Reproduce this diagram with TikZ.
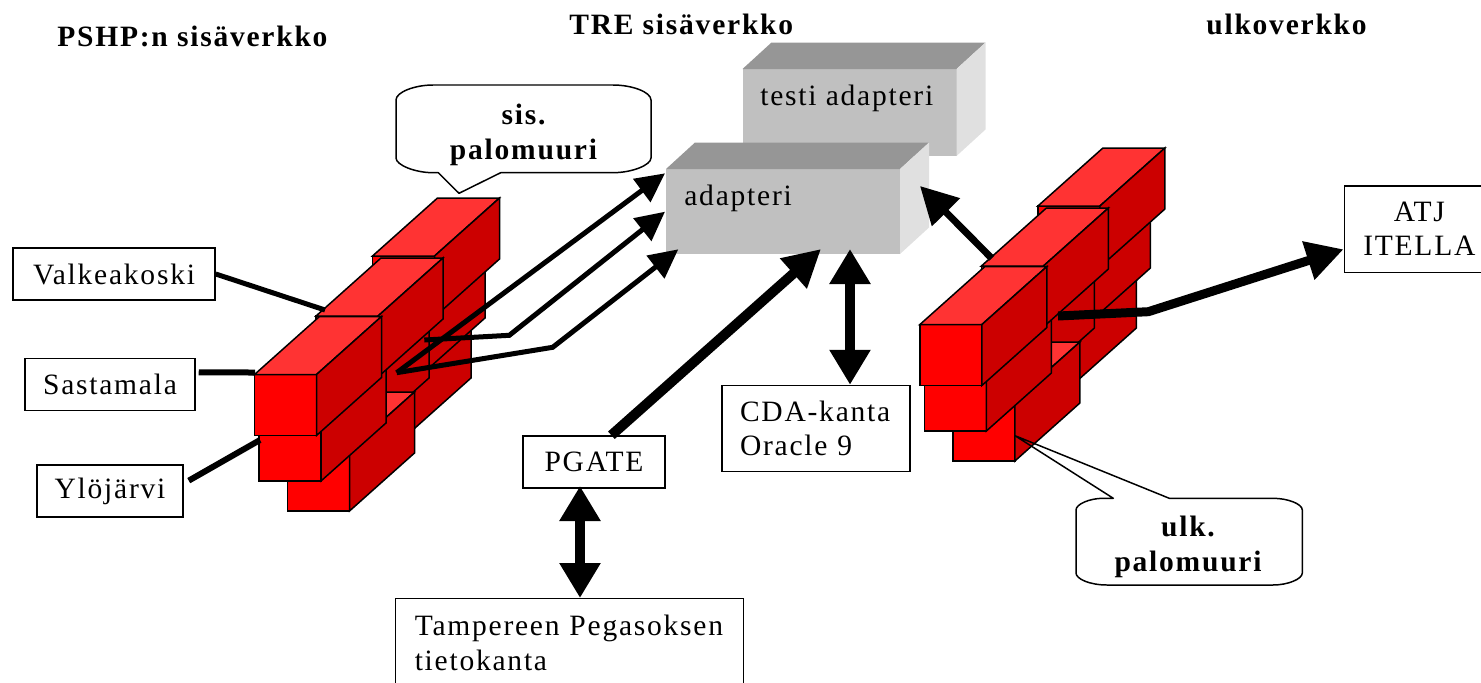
\documentclass[tikz,border=0pt]{standalone}
\usepackage{fontspec}
\setmainfont{Liberation Serif}
\newfontfamily\spacedfont[LetterSpace=6]{Liberation Serif}
\usetikzlibrary{arrows.meta}
\definecolor{brickfront}{HTML}{FF0000}
\definecolor{bricktop}{HTML}{FF3333}
\definecolor{brickside}{HTML}{CC0000}
\definecolor{greyfront}{HTML}{C0C0C0}
\definecolor{greytop}{HTML}{969696}
\definecolor{greyside}{HTML}{E0E0E0}
\def\pxu{0.02cm}
\def\brick(#1,#2){
	\draw[brickline, fill=brickfront] (#1,#2) rectangle ++(62,61);
	\draw[brickline, fill=bricktop] (#1,#2) -- ++(65,-58) -- ++(62,0) -- ++(-65,58) -- cycle;
	\draw[brickline, fill=brickside] (#1,#2) ++(62,0) -- ++(65,-58) -- ++(0,61) -- ++(-65,58) -- cycle;
}
\def\redwall{
	\brick(344,375)
	\brick(358,315)
	\brick(372.5,256)
	\brick(302,375)
	\brick(287.5,450)
	\brick(259,420)
	\brick(316,316)
	\brick(254.5,374.5)
}
\def\greybox(#1,#2)(#3,#4){
	\fill[greyfront] (#1,#2) rectangle ++(#3,#4);
	\fill[greytop] (#1,#2) -- ++(29,-26.5) -- ++(#3,0) -- ++(-29,26.5) -- cycle;
	\fill[greyside] (#1,#2) ++(#3,0) -- ++(29,-26.5) -- ++(0,#4) -- ++(-29,26.5) -- cycle;
}
\tikzset{
	brickline/.style={draw=black, line width=0.85pt},
	plaintext/.style={font=\fontsize{16.8}{19.5}\selectfont\spacedfont, inner sep=0pt, anchor=base west},
	headtext/.style={font=\fontsize{16.8}{19.5}\selectfont\spacedfont\bfseries, inner sep=0pt, align=center},
	labelbox/.style={draw=black, line width=0.85pt, fill=white, inner sep=0pt, align=center, font=\fontsize{16.8}{19.5}\selectfont\spacedfont},
	leftbox/.style={labelbox, align=left, inner xsep=18*\pxu, inner ysep=0pt},
	feeder/.style={line width=5*\pxu},
	balloon/.style={draw=black, line width=0.85pt, line join=round},
	thinarrow/.style={line width=5*\pxu, -{Triangle[length=29*\pxu, width=28*\pxu]}},
	widearrow/.style={line width=9*\pxu, -{Triangle[length=37*\pxu, width=38*\pxu]}},
	bothways/.style={line width=10.5*\pxu, {Triangle[length=35*\pxu, width=39*\pxu]}-{Triangle[length=35*\pxu, width=39*\pxu]}},
}

\begin{document}
\begin{tikzpicture}[x=\pxu, y=-\pxu]
	\useasboundingbox (0,0) rectangle (1481,683);
	
	%%%%% headings %%%%%
	\node[headtext, anchor=base west] (pshp) at (57,46) {PSHP:n sisäverkko};
	\node[headtext, anchor=base west] (tre) at (569,34) {TRE sisäverkko};
	\node[headtext, anchor=base west] (ulko) at (1206,34) {ulkoverkko};
	
	%%%%% adapters %%%%%
	\greybox(742.5,69)(214,87)
	\node[plaintext] (testi) at (760,105) {testi adapteri};
	\greybox(666,169)(234,85)
	\node[plaintext] (adapteri) at (684,205) {adapteri};
	
	%%%%% walls %%%%%
	\begin{scope}
		\redwall
	\end{scope}
	\begin{scope}[shift={(665.4,-50)}]
		\redwall
	\end{scope}
	
	%%%%% boxes %%%%%
	\node[labelbox, minimum width=202*\pxu, minimum height=52*\pxu] (valkeakoski) at (114,274) {Valkeakoski};
	\node[labelbox, minimum width=170*\pxu, minimum height=52*\pxu] (sastamala) at (110,384.5) {Sastamala};
	\node[labelbox, minimum width=146*\pxu, minimum height=52*\pxu] (ylojarvi) at (110,491) {Ylöjärvi};
	\node[labelbox, minimum width=142*\pxu, minimum height=52*\pxu] (pgate) at (594,462) {PGATE};
	\node[leftbox, text width=152*\pxu, minimum height=86*\pxu] (cda) at (816,428.5) {CDA-kanta\\Oracle 9};
	\node[labelbox, minimum width=150*\pxu, minimum height=86.5*\pxu] (atj) at (1419.3,229) {ATJ\\ITELLA};
	
	%%%%% box open at the lower edge %%%%%
	\coordinate (tamperenw) at (395.7,598.7);
	\coordinate (tamperene) at (743.3,598.7);
	\coordinate (tamperesw) at (395.7,690);
	\coordinate (tamperese) at (743.3,690);
	\draw[brickline] (tamperesw) -- (tamperenw) -- (tamperene) -- (tamperese);
	\node[labelbox, draw=none, fill=none, align=left, anchor=west, text width=320*\pxu] (tampere) at (414,643) {Tampereen Pegasoksen\\tietokanta};
	
	%%%%% balloons %%%%%
	\draw[balloon] (396,100) .. controls (396,92) and (415,85) .. (433,85) -- (613,85)
		.. controls (632,85) and (651,92) .. (651,100) -- (651,158)
		.. controls (651,165) and (632,172.7) .. (613,172.7) -- (500.7,172.7) -- (459,193.3) -- (438.3,172.7) -- (433,172.7)
		.. controls (415,172.7) and (396,165) .. (396,158) -- cycle;
	\node[headtext] (sispalo) at (523.5,135) {sis.\\palomuuri};
	\draw[balloon] (1076,510) .. controls (1076,504) and (1090,498.3) .. (1103,498.3) -- (1113.3,498.3) -- (1015,435.7) -- (1169.3,498.3) -- (1273,498.3)
		.. controls (1288,498.3) and (1302.3,504) .. (1302.3,510) -- (1302.3,573)
		.. controls (1302.3,579) and (1288,585) .. (1273,585) -- (1107,585)
		.. controls (1090,585) and (1076,579) .. (1076,573) -- cycle;
	\node[headtext] (ulkpalo) at (1188,547) {ulk.\\palomuuri};
	
	%%%%% line ends %%%%%
	\coordinate (wallvalkea) at (325,310);
	\coordinate (wallsasta) at (255,372.5);
	\coordinate (wallylo) at (260,440);
	\coordinate (sislow) at (396.7,372.7);
	\coordinate (sismid) at (424.3,340);
	\coordinate (bendmid) at (509.3,335.3);
	\coordinate (bendlow) at (552.7,347.3);
	\coordinate (adapterhigh) at (665,173.3);
	\coordinate (adaptermid) at (665,211.7);
	\coordinate (adapterlow) at (678.3,249.3);
	\coordinate (adapterpgate) at (821,249);
	\coordinate (adaptercda) at (850,249);
	\coordinate (adapterside) at (920,186);
	\coordinate (ulkupper) at (991.7,258.3);
	\coordinate (ulkmid) at (1058,316);
	\coordinate (bendatj) at (1148.3,311.7);
	\coordinate (pgatebase) at (580,486);
	\coordinate (tamperetop) at (580,598);
	
	%%%%% connectors %%%%%
	\draw[feeder] (valkeakoski.east) -- (wallvalkea);
	\draw[feeder, line width=6*\pxu] (sastamala.8) ++(3,0) -- (wallsasta);
	\draw[feeder, line width=6*\pxu] (ylojarvi.8) ++(5,0) -- (wallylo);
	\draw[thinarrow] (sislow) -- (adapterhigh);
	\draw[thinarrow] (sismid) -- (bendmid) -- (adaptermid);
	\draw[thinarrow] (sislow) -- (bendlow) -- (adapterlow);
	\draw[widearrow, line width=10*\pxu] (pgate.57) -- (adapterpgate);
	\draw[bothways] (adaptercda) -- (cda.north -| adaptercda);
	\draw[bothways] (pgatebase) -- (tamperetop);
	\draw[widearrow, line width=7*\pxu] (ulkupper) -- (adapterside);
	\draw[widearrow] (ulkmid) -- (bendatj) -- (atj.195);
\end{tikzpicture}
\end{document}
